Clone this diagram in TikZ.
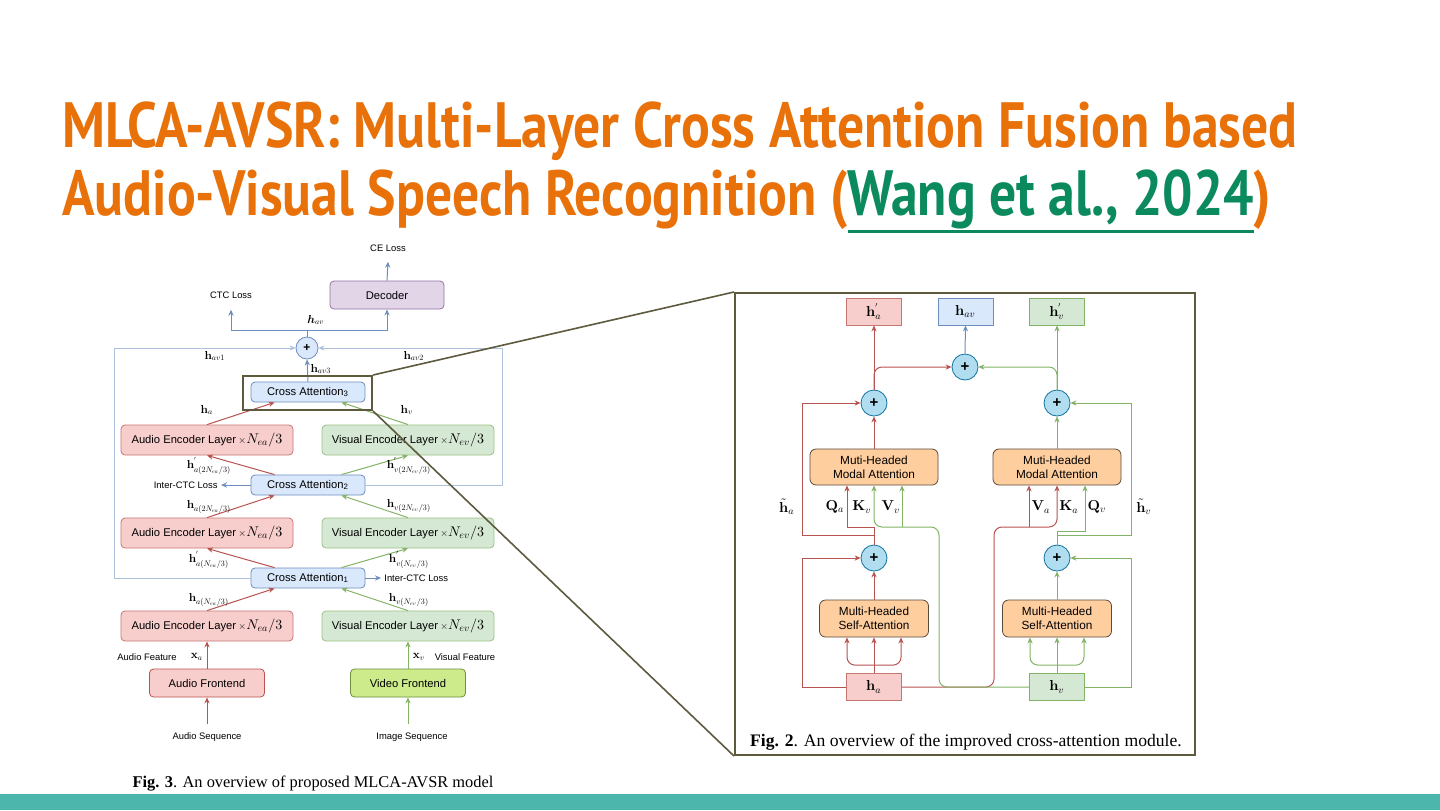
\documentclass[tikz,border=0pt]{standalone}
\usepackage{amsmath}
\usepackage[no-math]{fontspec}
\usepackage{graphicx}
\setmainfont{Liberation Sans}
\newfontfamily\serifcap{Liberation Serif}
\newfontfamily\titlefont{PT Sans}
\usetikzlibrary{arrows.meta,positioning}
% small math in one design size, scaled
\DeclareFontShape{OML}{cmm}{m}{it}{<->cmmi10}{}
\DeclareFontShape{OML}{cmm}{b}{it}{<->cmmib10}{}
\DeclareFontShape{OT1}{cmr}{m}{n}{<->cmr10}{}
\DeclareFontShape{OT1}{cmr}{bx}{n}{<->cmbx10}{}
\DeclareFontShape{OMS}{cmsy}{m}{n}{<->cmsy10}{}
\newlength{\linkwidth}

\definecolor{titleorange}{HTML}{E8710A}
\definecolor{linkgreen}{HTML}{0B8A5E}
\definecolor{barteal}{HTML}{4DB6AC}
\definecolor{redfill}{HTML}{F8CECC}
\definecolor{redline}{HTML}{B85450}
\definecolor{greenfill}{HTML}{D5E8D4}
\definecolor{greenline}{HTML}{82B366}
\definecolor{bluefill}{HTML}{DAE8FC}
\definecolor{blueline}{HTML}{6C8EBF}
\definecolor{purplefill}{HTML}{E1D5E7}
\definecolor{purpleline}{HTML}{9673A6}
\definecolor{limefill}{HTML}{CDEB8B}
\definecolor{limeline}{HTML}{6D8F3F}
\definecolor{orangefill}{HTML}{FFCE9F}
\definecolor{orangeline}{HTML}{5A4A3A}
\definecolor{sumfill}{HTML}{B1DDF0}
\definecolor{sumline}{HTML}{10739E}
\definecolor{zoomline}{HTML}{5E5A3E}

\begin{document}
\begin{tikzpicture}[x=0.5pt, y=-0.5pt,
  every node/.style={inner sep=0pt},
  boxfont/.style={font=\fontsize{5.6}{6.5}\selectfont},
  lossfont/.style={font=\fontsize{4.7}{5.5}\selectfont},
  lbl/.style={font=\fontsize{5.8}{6}\selectfont},
  rlbl/.style={font=\fontsize{7.2}{7.2}\selectfont},
  enca/.style={draw=redline!80, fill=redfill, rounded corners=2pt, minimum width=86pt, minimum height=15pt, boxfont},
  encv/.style={draw=greenline!80, fill=greenfill, rounded corners=2pt, minimum width=86pt, minimum height=15pt, boxfont},
  cabox/.style={draw=blueline, fill=bluefill, rounded corners=2pt, minimum width=57pt, minimum height=10pt, boxfont},
  fronta/.style={draw=redline, fill=redfill, rounded corners=2pt, minimum width=57.5pt, minimum height=14pt, boxfont},
  frontv/.style={draw=limeline, fill=limefill, rounded corners=2pt, minimum width=57.5pt, minimum height=14pt, boxfont},
  decbox/.style={draw=purpleline, fill=purplefill, rounded corners=2pt, minimum width=57pt, minimum height=14pt, boxfont},
  suml/.style={circle, draw=blueline, fill=bluefill, minimum size=11pt, font=\fontsize{6}{6}\selectfont\bfseries},
  sumr/.style={circle, draw=sumline, fill=sumfill, minimum size=13pt, font=\fontsize{7.5}{7.5}\selectfont\bfseries},
  hboxa/.style={draw=redline!80, fill=redfill, minimum width=27.5pt, minimum height=13.5pt, rlbl},
  hboxv/.style={draw=greenline, fill=greenfill, minimum width=27.5pt, minimum height=13.5pt, rlbl},
  hboxb/.style={draw=blueline, fill=bluefill, minimum width=27.5pt, minimum height=13.5pt, rlbl},
  attn/.style={draw=orangeline, fill=orangefill, rounded corners=3pt, minimum width=64pt, minimum height=18pt, align=center, font=\fontsize{5.9}{7.2}\selectfont},
  selfatt/.style={attn, minimum width=54.5pt, minimum height=18.5pt},
  redge/.style={-{Stealth[length=3pt, width=2.6pt]}, draw=redline, line width=0.5pt},
  gedge/.style={-{Stealth[length=3pt, width=2.6pt]}, draw=greenline, line width=0.5pt},
  bedge/.style={-{Stealth[length=3pt, width=2.6pt]}, draw=blueline, line width=0.5pt},
  frame/.style={bedge, draw=blueline!55},
  zoomed/.style={draw=zoomline, line width=1pt}
]
\useasboundingbox[fill=white] (0,0) rectangle (1440,810);
\fill[barteal] (0,794) rectangle (1440,810);

% slide title
\node[anchor=base west, text=titleorange] (title1) at (62,147) {\resizebox{617.5pt}{\height}{\titlefont\bfseries\fontsize{32}{36}\selectfont MLCA-AVSR: Multi-Layer Cross Attention Fusion based}};
\node[anchor=base west, text=titleorange] (title2) at (62,215) {\resizebox{604.5pt}{\height}{\titlefont\bfseries\fontsize{32}{36}\selectfont Audio-Visual Speech Recognition (\textcolor{linkgreen}{\settowidth{\linkwidth}{Wang et al., 2024}\rlap{\rule[-9.2pt]{\linkwidth}{1.5pt}}Wang et al., 2024})}};

% Fig. 3: whole model
\node[lossfont] (celoss) at (388,248) {CE Loss};
\node[decbox] (dec) at (387,295) {Decoder};
\node[lossfont] (ctcloss) at (231,295) {CTC Loss};
\node[suml] (sum) at (307,348) {+};
\node[cabox] (ca3) at (308,392) {Cross Attention\textsubscript{3}};
\node[cabox] (ca2) at (308,485) {Cross Attention\textsubscript{2}};
\node[cabox] (ca1) at (308,578) {Cross Attention\textsubscript{1}};
\node[enca] (ea3) at (207,440) {Audio Encoder Layer{\fontsize{7}{7}\selectfont$\,{\scriptstyle\times}N_{ea}/3$}};
\node[encv] (ev3) at (408,440) {Visual Encoder Layer{\fontsize{7}{7}\selectfont$\,{\scriptstyle\times}N_{ev}/3$}};
\node[enca] (ea2) at (207,533) {Audio Encoder Layer{\fontsize{7}{7}\selectfont$\,{\scriptstyle\times}N_{ea}/3$}};
\node[encv] (ev2) at (408,533) {Visual Encoder Layer{\fontsize{7}{7}\selectfont$\,{\scriptstyle\times}N_{ev}/3$}};
\node[enca] (ea1) at (207,626) {Audio Encoder Layer{\fontsize{7}{7}\selectfont$\,{\scriptstyle\times}N_{ea}/3$}};
\node[encv] (ev1) at (408,626) {Visual Encoder Layer{\fontsize{7}{7}\selectfont$\,{\scriptstyle\times}N_{ev}/3$}};
\node[fronta] (afront) at (207,683) {Audio Frontend};
\node[frontv] (vfront) at (408,683) {Video Frontend};
\node[lossfont] (aseq) at (207,737) {Audio Sequence};
\node[lossfont] (iseq) at (412,737) {Image Sequence};
\node[lossfont, anchor=east] (ictc2) at (218,485) {Inter-CTC Loss};
\node[lossfont, anchor=west] (ictc1) at (384,578) {Inter-CTC Loss};

\coordinate (split) at (307,330);
\coordinate (lcorner) at (114,348);
\coordinate (rcorner) at (502,348);
\draw[blueline, line width=0.5pt] (sum.north) -- (split);
\draw[bedge] (split) -| ([yshift=-5.5pt]ctcloss.south);
\draw[bedge] (split) -| (dec.south);
\draw[bedge] (dec.north) -- ([yshift=-5pt]celoss.south);
\draw[bedge] (ca3.north) -- (sum.south);
\draw[frame] (ca1.west) -| (lcorner) -- (sum.west);
\draw[frame] (ca2.east) -| (rcorner) -- (sum.east);
\draw[bedge] (ca2.west) -- ([xshift=1.5pt]ictc2.east);
\draw[bedge] (ca1.east) -- ([xshift=-1.5pt]ictc1.west);

\draw[redge] (ea3.north) -- ([xshift=12pt]ca3.south west);
\draw[gedge] (ev3.north) -- ([xshift=-12pt]ca3.south east);
\draw[redge] ([xshift=12pt]ca2.north west) -- (ea3.south);
\draw[gedge] ([xshift=-12pt]ca2.north east) -- (ev3.south);
\draw[redge] (ea2.north) -- ([xshift=12pt]ca2.south west);
\draw[gedge] (ev2.north) -- ([xshift=-12pt]ca2.south east);
\draw[redge] ([xshift=12pt]ca1.north west) -- (ea2.south);
\draw[gedge] ([xshift=-12pt]ca1.north east) -- (ev2.south);
\draw[redge] (ea1.north) -- ([xshift=12pt]ca1.south west);
\draw[gedge] (ev1.north) -- ([xshift=-12pt]ca1.south east);
\draw[redge] (afront.north) -- (ea1.south);
\draw[gedge] (vfront.north) -- (ev1.south);
\draw[redge] ([yshift=4pt]aseq.north) -- (afront.south);
\draw[gedge] ([xshift=-2pt, yshift=4pt]iseq.north) -- (vfront.south);

\node[lbl] (havtop) at (316,320) {$\boldsymbol{h}_{av}$};
\node[lbl] (hav1) at (215,356) {$\mathbf{h}_{av1}$};
\node[lbl] (hav2) at (414,356) {$\mathbf{h}_{av2}$};
\node[lbl] (hav3) at (321,369) {$\mathbf{h}_{av3}$};
\node[lbl] (ha3) at (207,410) {$\mathbf{h}_{a}$};
\node[lbl] (hv3) at (407,410) {$\mathbf{h}_{v}$};
\node[lbl] (hpa2) at (209,466) {$\mathbf{h}^{'}_{a(2N_{ea}/3)}$};
\node[lbl] (hpv2) at (409,466) {$\mathbf{h}^{'}_{v(2N_{ev}/3)}$};
\node[lbl] (ha2) at (209,507) {$\mathbf{h}_{a(2N_{ea}/3)}$};
\node[lbl] (hv2) at (409,506) {$\mathbf{h}_{v(2N_{ev}/3)}$};
\node[lbl] (hpa1) at (209,560) {$\mathbf{h}^{'}_{a(N_{ea}/3)}$};
\node[lbl] (hpv1) at (409,560) {$\mathbf{h}^{'}_{v(N_{ev}/3)}$};
\node[lbl] (ha1) at (209,600) {$\mathbf{h}_{a(N_{ea}/3)}$};
\node[lbl] (hv1) at (409,600) {$\mathbf{h}_{v(N_{ev}/3)}$};
\node[lossfont] (afeat) at (147,657) {Audio Feature};
\node[lbl] (xa) at (197,657) {$\mathbf{x}_{a}$};
\node[lbl] (xv) at (419,657) {$\mathbf{x}_{v}$};
\node[lossfont] (vfeat) at (465,657) {Visual Feature};
\node[font=\serifcap\fontsize{8.2}{9}\selectfont] (cap3) at (313,784) {\textbf{Fig. 3}. An overview of proposed MLCA-AVSR model};

% zoom onto the third cross attention
\node[zoomed, minimum width=64.5pt, minimum height=17pt] (zoom) at (307.5,393) {};
\node[zoomed, minimum width=230pt, minimum height=231pt] (fig2) at (965,524) {};
\draw[zoomline, line width=0.8pt] (zoom.north east) -- (fig2.north west);
\draw[zoomline, line width=0.8pt] (zoom.south east) -- (fig2.south west);

% Fig. 2: cross-attention module
\node[hboxa] (hpa) at (874,311.5) {$\mathbf{h}^{'}_{a}$};
\node[hboxb] (havbox) at (965.5,311.5) {$\mathbf{h}_{av}$};
\node[hboxv] (hpv) at (1057,311.5) {$\mathbf{h}^{'}_{v}$};
\node[sumr] (ptop) at (965,367) {+};
\node[sumr] (pla) at (874,403) {+};
\node[sumr] (plv) at (1057,403) {+};
\node[attn] (mma) at (874,467) {Muti-Headed\\Modal Attention};
\node[attn] (mmv) at (1057,467) {Muti-Headed\\Modal Attention};
\node[sumr] (psa) at (874,558) {+};
\node[sumr] (psv) at (1057,558) {+};
\node[selfatt] (msa) at (874,618.5) {Multi-Headed\\Self-Attention};
\node[selfatt] (msv) at (1057,618.5) {Multi-Headed\\Self-Attention};
\node[hboxa] (ha) at (874,687) {$\mathbf{h}_{a}$};
\node[hboxv] (hv) at (1057,687) {$\mathbf{h}_{v}$};
\node[font=\serifcap\fontsize{8.8}{10}\selectfont] (cap2) at (966,742) {\textbf{Fig. 2}. An overview of the improved cross-attention module.};

\node[rlbl] (hta) at (787,507) {$\tilde{\mathbf{h}}_{a}$};
\node[rlbl] (qalbl) at (835,507) {$\mathbf{Q}_{a}$};
\node[rlbl] (kvlbl) at (862,507) {$\mathbf{K}_{v}$};
\node[rlbl] (vvlbl) at (891,507) {$\mathbf{V}_{v}$};
\node[rlbl] (valbl) at (1041,507) {$\mathbf{V}_{a}$};
\node[rlbl] (kalbl) at (1069,507) {$\mathbf{K}_{a}$};
\node[rlbl] (qvlbl) at (1097,507) {$\mathbf{Q}_{v}$};
\node[rlbl] (htv) at (1144,507) {$\tilde{\mathbf{h}}_{v}$};

\coordinate (xla) at (802,558);
\coordinate (xlv) at (1131,558);
\coordinate (qa) at (874,527);
\coordinate (ta) at (874,535);
\coordinate (ua) at (802,403);
\coordinate (qv) at (1057,531);
\coordinate (tv) at (1057,535);
\coordinate (uv) at (1131,403);
\coordinate (gx) at (939,527);
\coordinate (vv) at (902,527);
\coordinate (rx) at (994,527);
\coordinate (va) at (1029,527);

\draw[redge] (pla.north) -- (hpa.south);
\draw[redge, rounded corners=4pt] (pla.north) |- (ptop.west);
\draw[gedge] (plv.north) -- (hpv.south);
\draw[gedge, rounded corners=4pt] (plv.north) |- (ptop.east);
\draw[bedge] (ptop.north) -- (havbox.south);
\draw[redge] (mma.north) -- (pla.south);
\draw[gedge] (mmv.north) -- (plv.south);
\draw[redge] (msa.north) -- (psa.south);
\draw[gedge] (msv.north) -- (psv.south);

\draw[redge] (ha.north) -- (msa.south);
\draw[redge, rounded corners=4pt] ([yshift=4pt]ha.north) -| ([xshift=-13.5pt]msa.south);
\draw[redge, rounded corners=4pt] ([yshift=4pt]ha.north) -| ([xshift=13.5pt]msa.south);
\draw[gedge] (hv.north) -- (msv.south);
\draw[gedge, rounded corners=4pt] ([yshift=4pt]hv.north) -| ([xshift=-13.5pt]msv.south);
\draw[gedge, rounded corners=4pt] ([yshift=4pt]hv.north) -| ([xshift=13.5pt]msv.south);
\draw[redge] (ha.west) -| (xla) -- (psa.west);
\draw[gedge] (hv.east) -| (xlv) -- (psv.east);

\draw[redge] (psa.north) -- (qa) -| ([xshift=-13.5pt]mma.south);
\draw[redge] (ta) -| (ua) -- (pla.west);
\draw[gedge] (psv.north) -- (qv) -| ([xshift=14pt]mmv.south);
\draw[gedge] (tv) -| (uv) -- (plv.east);
\draw[redge, rounded corners=4pt] (ha.east) -| (rx) -| (mmv.south);
\draw[redge] (va) -- (va |- mmv.south);
\draw[gedge, rounded corners=4pt] (hv.west) -| (gx) -| (mma.south);
\draw[gedge] (vv) -- (vv |- mma.south);
\end{tikzpicture}
\end{document}
